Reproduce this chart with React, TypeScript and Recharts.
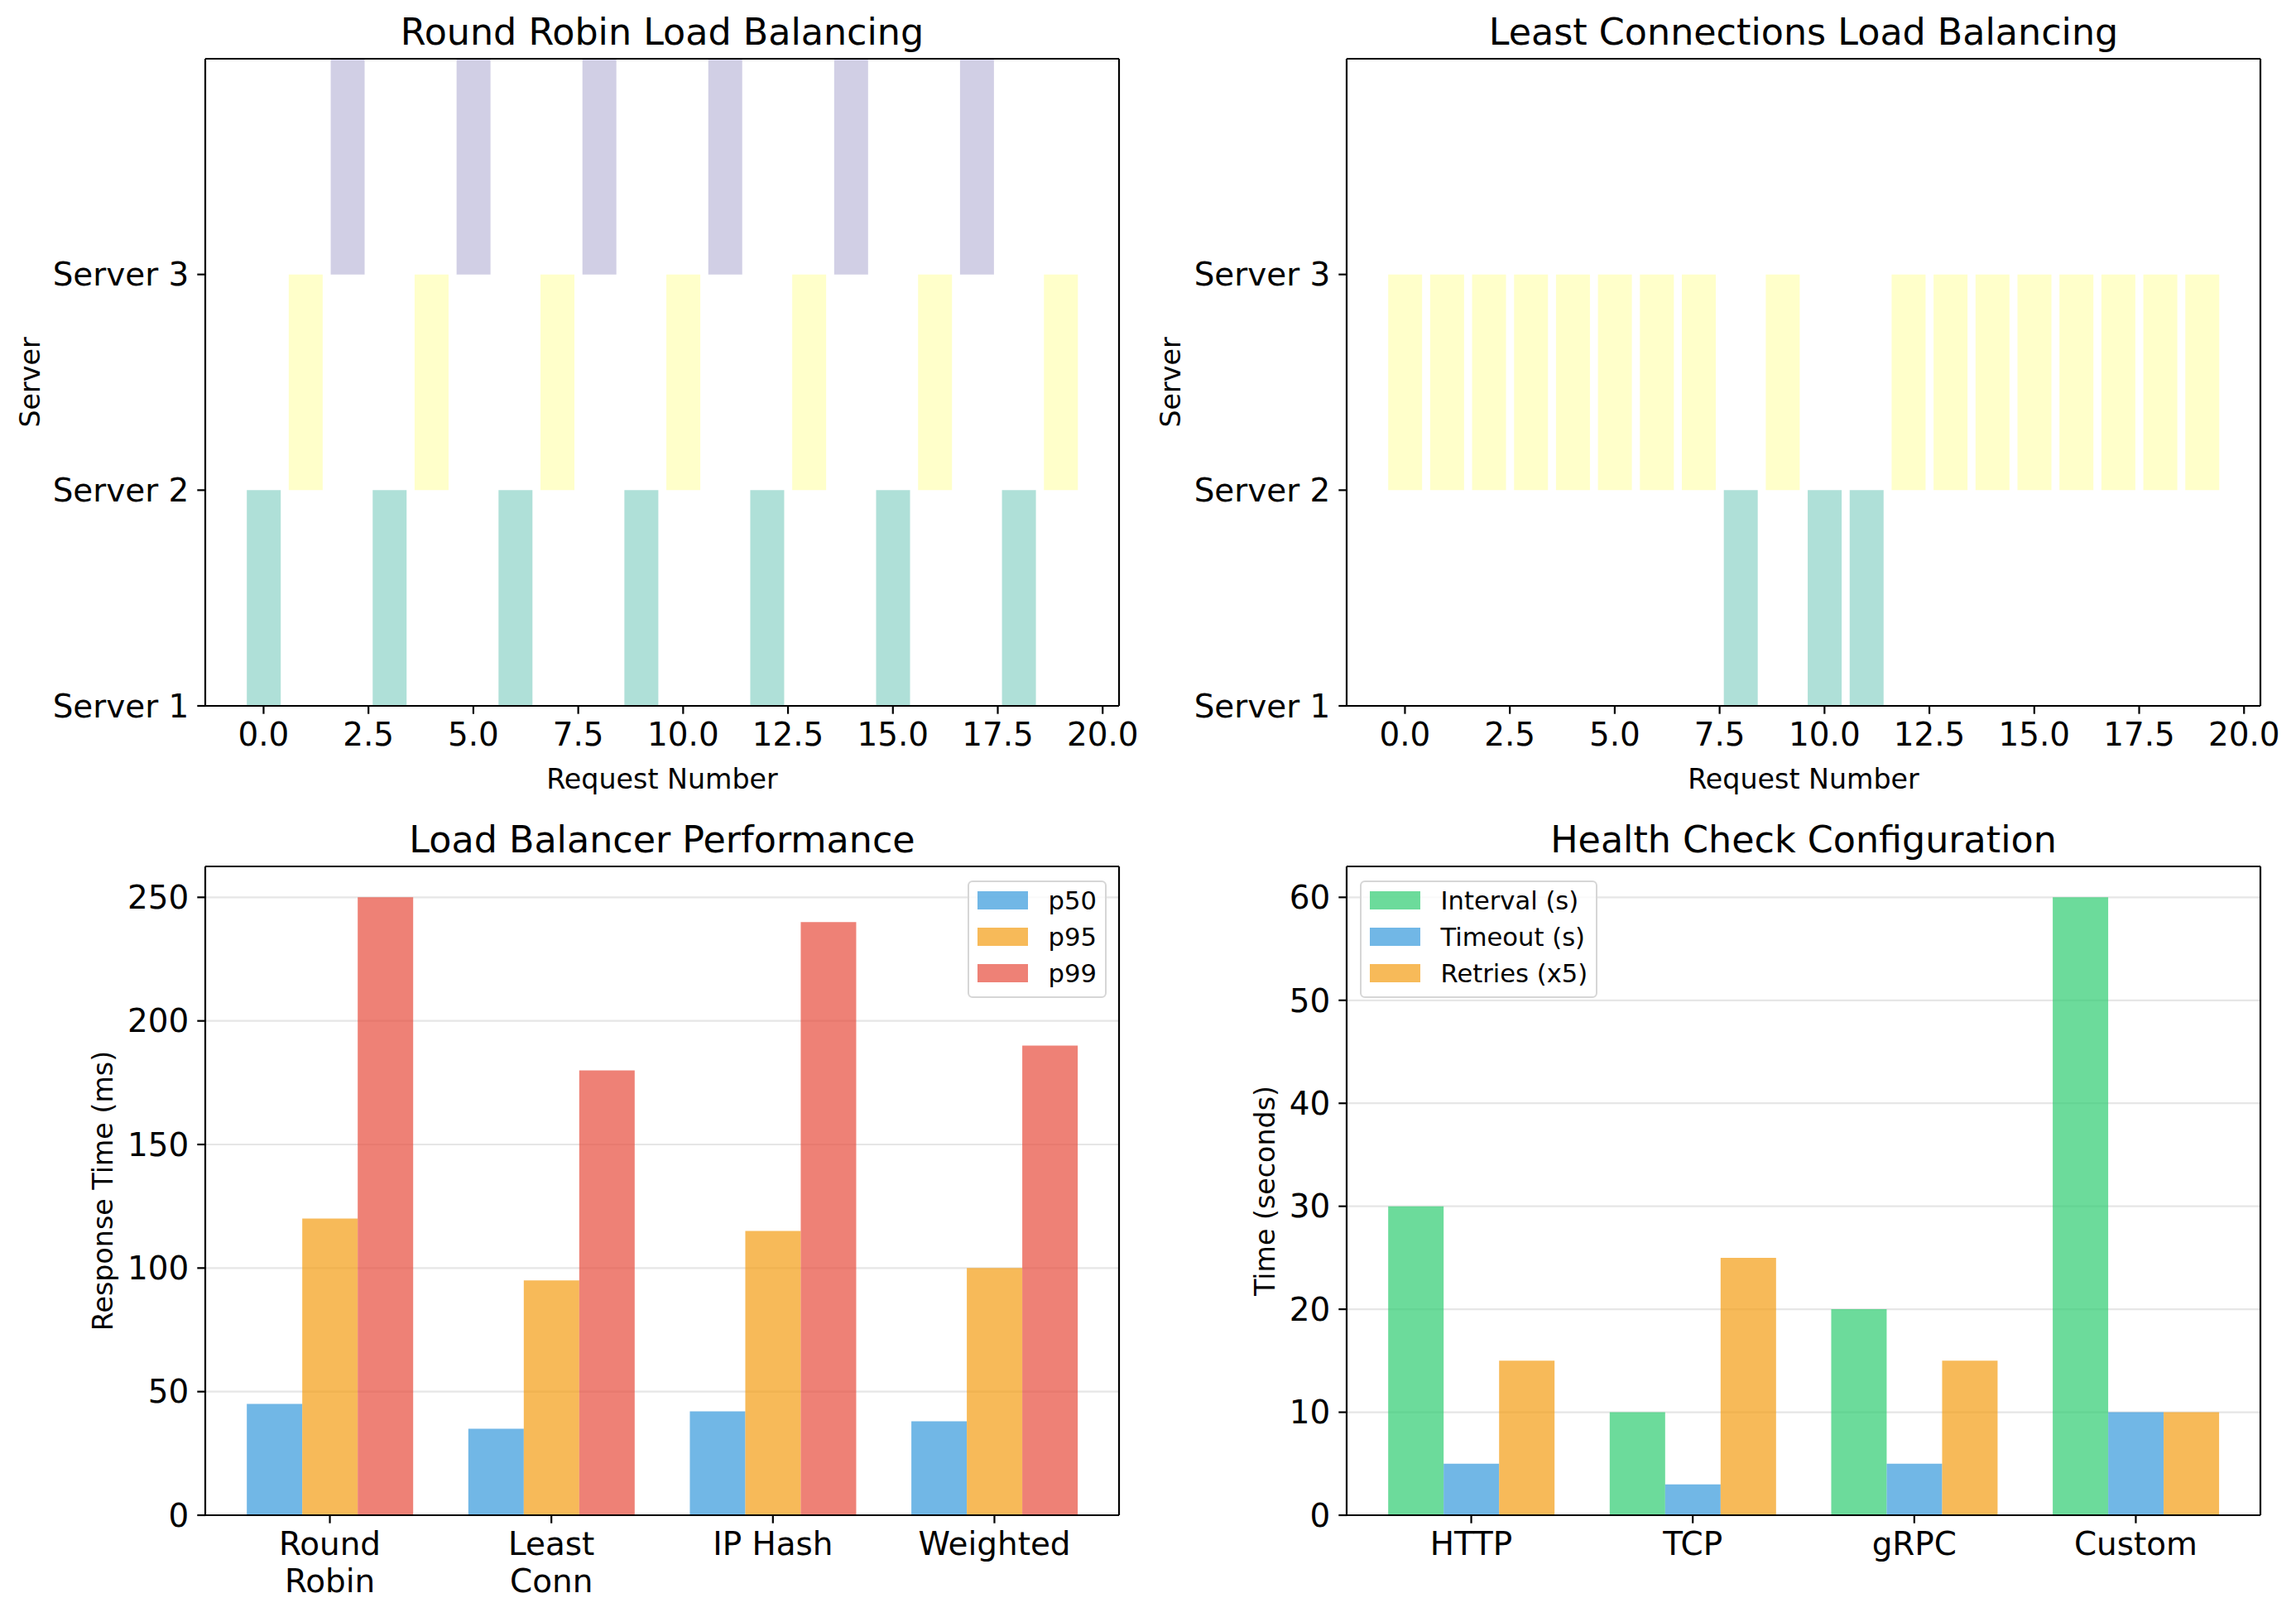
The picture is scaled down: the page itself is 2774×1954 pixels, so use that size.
import React from "react";
import { BarChart, Bar, XAxis, YAxis, CartesianGrid, Legend, Cell } from "recharts";

// request timeline (top row)
const requestIds = [0, 1, 2, 3, 4, 5, 6, 7, 8, 9, 10, 11, 12, 13, 14, 15, 16, 17, 18, 19];
const roundRobinServer = [0, 1, 2, 0, 1, 2, 0, 1, 2, 0, 1, 2, 0, 1, 2, 0, 1, 2, 0, 1];
const leastConnServer = [1, 1, 1, 1, 1, 1, 1, 1, 0, 1, 0, 0, 1, 1, 1, 1, 1, 1, 1, 1];
const serverNames = ["Server 1", "Server 2", "Server 3"];
const serverTicks = [0, 1, 2];
const requestTicks = [0, 2.5, 5, 7.5, 10, 12.5, 15, 17.5, 20];

// latency percentiles (bottom left)
const perfCategories = ["Round\nRobin", "Least\nConn", "IP Hash", "Weighted"];
const p50 = [45, 35, 42, 38];
const p95 = [120, 95, 115, 100];
const p99 = [250, 180, 240, 190];
const perfTicks = [0, 50, 100, 150, 200, 250];

// health check settings (bottom right)
const healthCategories = ["HTTP", "TCP", "gRPC", "Custom"];
const intervalSec = [30, 10, 20, 60];
const timeoutSec = [5, 3, 5, 10];
const retriesX5 = [15, 25, 15, 10];
const healthTicks = [0, 10, 20, 30, 40, 50, 60];

const SET3 = ["#8dd3c7", "#ffffb3", "#bebada"];
const BLUE = "#3498db";
const ORANGE = "#f39c12";
const RED = "#e74c3c";
const GREEN = "#2ecc71";

const TITLE_FS = 44.4;
const TICK_FS = 38.9;
const LABEL_FS = 33.3;
const LEGEND_FS = 30.6;

const CW = 1387;
const CH = 977;
const spine = { stroke: "#000", strokeWidth: 2.2 };
const tickText = { fill: "#000", fontSize: TICK_FS };

type Series = { key: string; name: string; color: string };

function Title({ text, plotLeft, plotRight, top }: { text: string; plotLeft: number; plotRight: number; top: number }) {
  const center = (plotLeft + plotRight) / 2;
  return (
    <div
      style={{
        position: "absolute",
        left: center - 700,
        width: 1400,
        top,
        textAlign: "center",
        fontSize: TITLE_FS,
        lineHeight: `${TITLE_FS}px`,
        color: "#000",
        whiteSpace: "nowrap",
      }}
    >
      {text}
    </div>
  );
}

function CategoryTick({ x, y, payload }: any) {
  const lines = String(payload.value).split("\n");
  return (
    <text x={x} y={y} textAnchor="middle" fill="#000" fontSize={TICK_FS}>
      {lines.map((line, i) => (
        <tspan key={i} x={x} dy={i === 0 ? "0.73em" : 45}>
          {line}
        </tspan>
      ))}
    </text>
  );
}

function BoxLegend({ payload, order }: any) {
  // keep the series order, recharts sorts legend items by name
  const items = [...(payload || [])].sort(
    (a: any, b: any) => order.indexOf(a.value) - order.indexOf(b.value)
  );
  return (
    <div
      style={{
        border: "2.8px solid #d6d6d6",
        borderRadius: 6,
        background: "rgba(255,255,255,0.8)",
        padding: "0 10px 6px 10px",
        fontSize: LEGEND_FS,
        color: "#000",
      }}
    >
      {items.map((entry: any) => (
        <div key={entry.value} style={{ display: "flex", alignItems: "center", height: 44, whiteSpace: "nowrap" }}>
          <span style={{ display: "inline-block", width: 61, height: 21.4, background: entry.color, opacity: 0.7 }} />
          <span style={{ marginLeft: 24.5 }}>{entry.value}</span>
        </div>
      ))}
    </div>
  );
}

function ServerChart({
  title,
  servers,
  left,
  yWidth,
  marginRight,
  yLabelX,
}: {
  title: string;
  servers: number[];
  left: number;
  yWidth: number;
  marginRight: number;
  yLabelX: number;
}) {
  const data = requestIds.map((req, i) => ({ req, server: servers[i] }));
  const plotRight = CW - marginRight - 1;
  // xlim -1.39..20.39 like matplotlib margins around bars of width 0.8
  const unit = (plotRight - yWidth) / 21.78;
  const pad = unit * 0.89;
  return (
    <div style={{ position: "absolute", left, top: 0, width: CW, height: CH }}>
      <Title text={title} plotLeft={yWidth} plotRight={plotRight} top={17} />
      <BarChart width={CW} height={CH} data={data} margin={{ top: 70, right: marginRight, bottom: 20, left: 0 }}>
        <XAxis
          xAxisId="num"
          dataKey="req"
          type="number"
          domain={[-1.39, 20.39]}
          allowDataOverflow
          ticks={requestTicks}
          tickFormatter={(v: number) => v.toFixed(1)}
          height={104}
          tickSize={9.7}
          tickMargin={11}
          tick={tickText}
          axisLine={spine}
          tickLine={spine}
          label={{ value: "Request Number", position: "insideBottom", offset: 4, fill: "#000", fontSize: LABEL_FS }}
        />
        <XAxis xAxisId="cat" dataKey="req" type="category" hide height={0} padding={{ left: pad, right: pad }} />
        <XAxis xAxisId="top" orientation="top" type="number" domain={[0, 1]} allowDataOverflow height={1} tick={false} tickLine={false} axisLine={spine} />
        <YAxis
          type="number"
          domain={[0, 3]}
          allowDataOverflow
          ticks={serverTicks}
          tickFormatter={(v: number) => serverNames[v]}
          width={yWidth}
          tickSize={9.7}
          tickMargin={10}
          tick={tickText}
          axisLine={spine}
          tickLine={spine}
          label={{
            value: "Server",
            angle: -90,
            position: "insideLeft",
            offset: yLabelX,
            fill: "#000",
            fontSize: LABEL_FS,
            style: { textAnchor: "middle" },
          }}
        />
        <YAxis yAxisId="right" orientation="right" type="number" domain={[0, 1]} allowDataOverflow width={1} tick={false} tickLine={false} axisLine={spine} />
        <Bar xAxisId="cat" dataKey={(d: any) => [d.server, d.server + 1]} isAnimationActive={false}>
          {data.map((d, i) => (
            <Cell key={`cell-${i}`} fill={SET3[d.server]} fillOpacity={0.7} />
          ))}
        </Bar>
      </BarChart>
    </div>
  );
}

function GroupedChart({
  title,
  data,
  series,
  left,
  yWidth,
  marginRight,
  yMax,
  yTicks,
  yLabel,
  yLabelX,
  legendLeft,
}: {
  title: string;
  data: any[];
  series: Series[];
  left: number;
  yWidth: number;
  marginRight: number;
  yMax: number;
  yTicks: number[];
  yLabel: string;
  yLabelX: number;
  legendLeft: number;
}) {
  const plotRight = CW - marginRight - 1;
  // xlim -0.5625..3.5625 for groups of three 0.25-wide bars
  const unit = (plotRight - yWidth) / 4.125;
  const pad = unit * 0.0625;
  return (
    <div style={{ position: "absolute", left, top: CH, width: CW, height: CH }}>
      <Title text={title} plotLeft={yWidth} plotRight={plotRight} top={15.5} />
      <BarChart
        width={CW}
        height={CH}
        data={data}
        margin={{ top: 69, right: marginRight, bottom: 19, left: 0 }}
        barGap={0}
        barCategoryGap="12.5%"
      >
        <CartesianGrid vertical={false} stroke="#e6e6e6" strokeWidth={2.2} />
        <XAxis
          dataKey="name"
          type="category"
          padding={{ left: pad, right: pad }}
          height={104}
          tickSize={9.7}
          tickMargin={10}
          tick={<CategoryTick />}
          axisLine={spine}
          tickLine={spine}
          interval={0}
        />
        <XAxis xAxisId="top" orientation="top" type="number" domain={[0, 1]} allowDataOverflow height={1} tick={false} tickLine={false} axisLine={spine} />
        <YAxis
          type="number"
          domain={[0, yMax]}
          allowDataOverflow
          ticks={yTicks}
          width={yWidth}
          tickSize={9.7}
          tickMargin={10}
          tick={tickText}
          axisLine={spine}
          tickLine={spine}
          label={{
            value: yLabel,
            angle: -90,
            position: "insideLeft",
            offset: yLabelX,
            fill: "#000",
            fontSize: LABEL_FS,
            style: { textAnchor: "middle" },
          }}
        />
        <YAxis yAxisId="right" orientation="right" type="number" domain={[0, 1]} allowDataOverflow width={1} tick={false} tickLine={false} axisLine={spine} />
        <Legend
          content={<BoxLegend order={series.map((s) => s.name)} />}
          layout="vertical"
          align="center"
          verticalAlign="middle"
          wrapperStyle={{ left: legendLeft, top: 87, width: "auto", height: "auto" }}
        />
        {series.map((s) => (
          <Bar key={s.key} dataKey={s.key} name={s.name} fill={s.color} fillOpacity={0.7} isAnimationActive={false} />
        ))}
      </BarChart>
    </div>
  );
}

export default function App() {
  const perfData = perfCategories.map((name, i) => ({ name, p50: p50[i], p95: p95[i], p99: p99[i] }));
  const healthData = healthCategories.map((name, i) => ({
    name,
    interval: intervalSec[i],
    timeout: timeoutSec[i],
    retries: retriesX5[i],
  }));

  return (
    <div
      style={{
        position: "relative",
        width: 2774,
        height: 1954,
        background: "#fff",
        fontFamily: "'DejaVu Sans', sans-serif",
        overflow: "hidden",
      }}
    >
      <style>{"body{margin:0;background:#fff}"}</style>
      <ServerChart title="Round Robin Load Balancing" servers={roundRobinServer} left={0} yWidth={248} marginRight={34} yLabelX={36} />
      <ServerChart title="Least Connections Load Balancing" servers={leastConnServer} left={CW} yWidth={240} marginRight={42} yLabelX={27} />
      <GroupedChart
        title="Load Balancer Performance"
        data={perfData}
        series={[
          { key: "p50", name: "p50", color: BLUE },
          { key: "p95", name: "p95", color: ORANGE },
          { key: "p99", name: "p99", color: RED },
        ]}
        left={0}
        yWidth={248}
        marginRight={34}
        yMax={262.5}
        yTicks={perfTicks}
        yLabel="Response Time (ms)"
        yLabelX={124}
        legendLeft={1169}
      />
      <GroupedChart
        title="Health Check Configuration"
        data={healthData}
        series={[
          { key: "interval", name: "Interval (s)", color: GREEN },
          { key: "timeout", name: "Timeout (s)", color: BLUE },
          { key: "retries", name: "Retries (x5)", color: ORANGE },
        ]}
        left={CW}
        yWidth={240}
        marginRight={42}
        yMax={63}
        yTicks={healthTicks}
        yLabel="Time (seconds)"
        yLabelX={141}
        legendLeft={256}
      />
    </div>
  );
}
